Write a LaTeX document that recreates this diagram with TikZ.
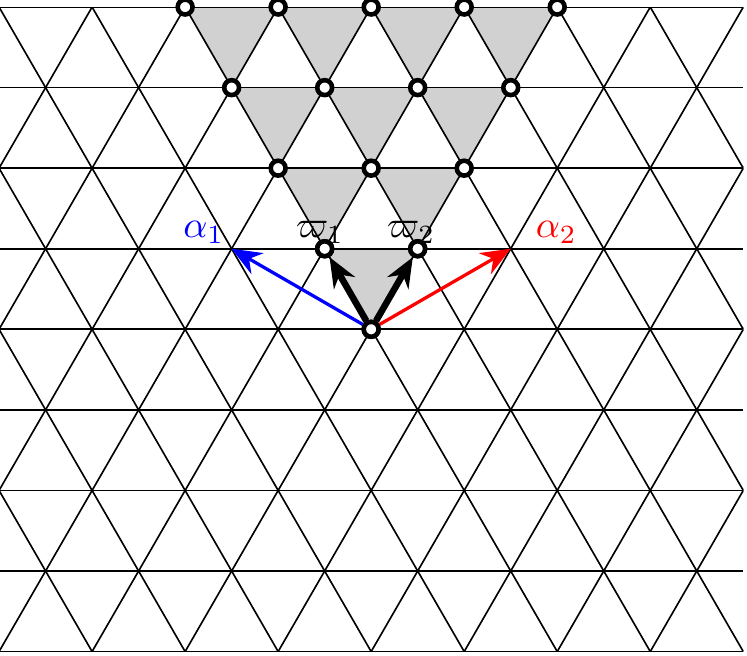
\documentclass[tikz,border=0pt]{standalone}
\usetikzlibrary{arrows.meta}
\begin{document}
\begin{tikzpicture}[x=1cm,y=1cm,
  grid/.style={black,line width=0.5pt},
  shade/.style={fill=black!18},
  wt/.style={circle,draw=black,fill=white,line width=1.4pt,inner sep=0pt,minimum size=0.16cm},
  vec/.style={-{Stealth[length=3.2mm,width=2.6mm]},line width=1pt},
  wvec/.style={-{Stealth[length=3.2mm,width=2.6mm]},line width=2pt}]
\def\h{0.8660254}
\useasboundingbox (-3.99,-3.505) rectangle (4.04,3.54);
% shaded triangles
\foreach \k/\n in {4/4,3/3,2/2,1/1}{
  \pgfmathsetmacro{\s}{-\n/2}
  \foreach \i in {1,...,\n}{
    \fill[shade] ({\s+\i-1},{\k*\h}) -- ({\s+\i},{\k*\h}) -- ({\s+\i-0.5},{(\k-1)*\h}) -- cycle;
  }
}
% lattice
\begin{scope}
\clip (-4,-4*\h) rectangle (4,4*\h);
\foreach \k in {-4,...,4} \draw[grid] (-4,{\k*\h}) -- (4,{\k*\h});
\foreach \x in {-12,...,12}{
  \draw[grid] ({\x-2},{-4*\h}) -- ({\x+2},{4*\h});
  \draw[grid] ({\x+2},{-4*\h}) -- ({\x-2},{4*\h});
}
\end{scope}
% weights
\node[wt] (o) at (0,0) {};
\node[wt] (w1) at (-0.5,\h) {};
\node[wt] (w2) at (0.5,\h) {};
\coordinate (a1) at (-1.5,\h);
\coordinate (a2) at (1.5,\h);
\foreach \x [count=\j] in {-1,0,1} \node[wt] (r2\j) at (\x,{2*\h}) {};
\foreach \x [count=\j] in {-1.5,-0.5,0.5,1.5} \node[wt] (r3\j) at (\x,{3*\h}) {};
\foreach \x [count=\j] in {-2,-1,0,1,2} \node[wt] (r4\j) at (\x,{4*\h}) {};
\draw[vec,blue] (o) -- (a1);
\draw[vec,red] (o) -- (a2);
\draw[wvec] (o) -- (w1);
\draw[wvec] (o) -- (w2);
\node[wt] at (o) {};
\node[wt] at (w1) {};
\node[wt] at (w2) {};
\node[blue,scale=1.15] (l1) at (-1.8,1.04) {$\alpha_1$};
\node[red,scale=1.15] (l2) at (1.99,1.04) {$\alpha_2$};
\node[scale=1.15] (l3) at (-0.55,1.04) {$\varpi_1$};
\node[scale=1.15] (l4) at (0.43,1.04) {$\varpi_2$};
\end{tikzpicture}
\end{document}
